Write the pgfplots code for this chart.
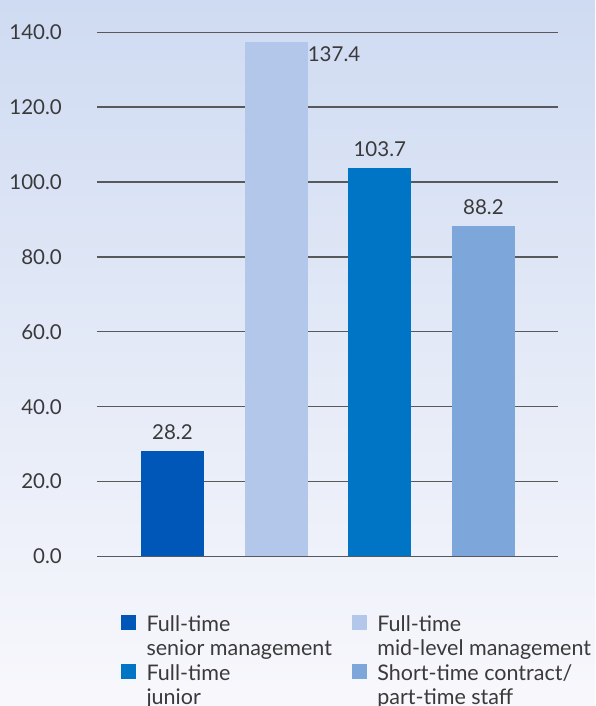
\documentclass[border=0pt]{standalone}
\usepackage{pgfplots}
\pgfplotsset{compat=1.18}
\usepackage{fontspec}
\setmainfont{Lato}
\definecolor{cA}{HTML}{0057B8}
\definecolor{cB}{HTML}{B3C7EA}
\definecolor{cC}{HTML}{0075C6}
\definecolor{cD}{HTML}{7DA6DB}
\definecolor{txt}{HTML}{3A3A3A}
\definecolor{gridc}{HTML}{58595B}
\definecolor{bgtop}{HTML}{CFDBF2}
\definecolor{bgbot}{HTML}{F8F8FC}
\pgfplotsset{
  mybar/.style={ybar, bar width=0.608, bar shift=0pt, draw=none, forget plot,
    nodes near coords={\pgfmathprintnumber[fixed,fixed zerofill,precision=1]{\pgfplotspointmeta}},
    every node near coord/.append style={font=\fontsize{20.5}{24}\selectfont, color=txt, inner sep=0pt}},
}
\begin{document}
\begin{tikzpicture}[x=1pt,y=1pt]
\shade[top color=bgtop, bottom color=bgbot] (0,0) rectangle (595,706);
\begin{axis}[
  at={(97pt,149.5pt)}, anchor=south west,
  scale only axis, width=461pt, height=524.3pt,
  xmin=-0.728, xmax=3.719, ymin=0, ymax=140,
  ytick={0,20,...,140},
  xtick=\empty,
  axis line style={draw=none},
  major tick length=0pt,
  ymajorgrids,
  grid style={gridc, line width=1.3pt},
  /pgf/number format/assume math mode=true,
  yticklabel={\pgfmathprintnumber[fixed,fixed zerofill,precision=1]{\tick}},
  yticklabel style={font=\fontsize{20.5}{24}\selectfont, color=txt, inner sep=0pt, xshift=-35pt},
  legend style={draw=none, fill=none, at={(0.052,-0.1078)}, anchor=north west,
    font=\fontsize{21.5}{24}\selectfont, text=txt, inner sep=0pt,
    cells={inner sep=0pt, text height=16pt, text depth=5pt},
    row sep=3pt,
    /tikz/every odd column/.append style={column sep=9pt},
    /tikz/every even column/.append style={column sep=18pt}},
  legend columns=2,
  legend cell align=left,
]
\addplot[mybar, fill=cA, every node near coord/.append style={anchor=south, yshift=11pt}] coordinates {(0,28.2)};
\addplot[mybar, fill=cB, every node near coord/.append style={anchor=north west, xshift=31.5pt, yshift=-5pt}] coordinates {(1,137.4)};
\addplot[mybar, fill=cC, every node near coord/.append style={anchor=south, yshift=11pt}] coordinates {(2,103.7)};
\addplot[mybar, fill=cD, every node near coord/.append style={anchor=south, yshift=11pt}] coordinates {(3,88.2)};
\addlegendimage{legend image code/.code={\fill[cA] (0pt,-5.5pt) rectangle (14pt,8.5pt);}}
\addlegendimage{legend image code/.code={\fill[cB] (0pt,-5.5pt) rectangle (14pt,8.5pt);}}
\addlegendimage{empty legend}
\addlegendimage{empty legend}
\addlegendimage{legend image code/.code={\fill[cC] (0pt,-5.5pt) rectangle (14pt,8.5pt);}}
\addlegendimage{legend image code/.code={\fill[cD] (0pt,-5.5pt) rectangle (14pt,8.5pt);}}
\addlegendimage{empty legend}
\addlegendimage{empty legend}
\legend{Full-time, Full-time, senior management, mid-level management, Full-time, Short-time contract/, junior, part-time staff}
\end{axis}
\pgfresetboundingbox
\path[use as bounding box] (0,0) rectangle (595,706);
\end{tikzpicture}
\end{document}
